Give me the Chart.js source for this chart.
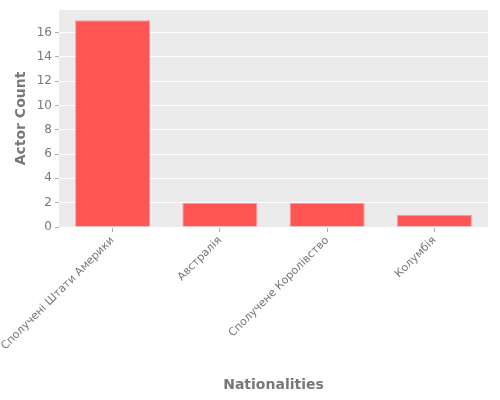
<!DOCTYPE html>
<html><head><meta charset="utf-8">
<script src="https://cdn.jsdelivr.net/npm/chart.js@4"></script>
<style>html,body{margin:0;padding:0;background:#fff}#w{width:500px;height:400px}</style>
</head><body><div id="w"><canvas id="c"></canvas></div>
<script>
const categories = ["Сполучені Штати Америки", "Австралія", "Сполучене Королівство", "Колумбія"];
const actorCounts = [17, 2, 2, 1];
const yTicks = [0, 2, 4, 6, 8, 10, 12, 14, 16];

const bgPlugin = {
  id: 'bg',
  beforeDraw(chart) {
    const a = chart.chartArea, ctx = chart.ctx;
    ctx.save(); ctx.fillStyle = '#EBEBEB';
    ctx.fillRect(a.left, a.top, a.right - a.left, a.bottom - a.top);
    ctx.restore();
  }
};

new Chart(document.getElementById('c'), {
  type: 'bar',
  data: { labels: categories, datasets: [{ data: actorCounts, backgroundColor: '#FF5555', borderColor: 'rgba(255,150,150,0.9)', borderWidth: 1, barPercentage: 0.7, categoryPercentage: 1.0 }] },
  options: {
    responsive: true, maintainAspectRatio: false, animation: false,
    layout: { padding: { left: 0, right: 12, top: 10, bottom: 0 } },
    plugins: { legend: { display: false }, tooltip: { enabled: false } },
    scales: {
      x: {
        grid: { display: true, offset: false, drawOnChartArea: false, tickLength: 5, tickColor: '#999', tickWidth: 0.8 },
        border: { display: false },
        ticks: { color: '#777', font: { family: 'DejaVu Sans', size: 11 }, minRotation: 45, maxRotation: 45, padding: 2, autoSkip: false },
        title: { display: true, text: 'Nationalities', color: '#777', font: { family: 'DejaVu Sans', size: 14, weight: 'bold' }, padding: { top: 4, bottom: 6 } },
        afterFit(s) { s.height = 173; s.paddingLeft = 0; s.paddingRight = 0; }
      },
      y: {
        min: 0, max: 17.85,
        afterBuildTicks(s) { s.ticks = yTicks.map(v => ({ value: v })); },
        grid: { color: '#FFFFFF', lineWidth: 1, tickLength: 4, tickColor: '#999', tickWidth: 0.8 },
        border: { display: false },
        ticks: { color: '#777', font: { family: 'DejaVu Sans', size: 12 }, padding: 3 },
        title: { display: true, text: 'Actor Count', color: '#777', font: { family: 'DejaVu Sans', size: 14, weight: 'bold' }, padding: { top: 13, bottom: 6 } },
        afterFit(s) { s.width = 59; s.paddingTop = 0; s.paddingBottom = 0; }
      }
    }
  },
  plugins: [bgPlugin]
});
</script></body></html>
